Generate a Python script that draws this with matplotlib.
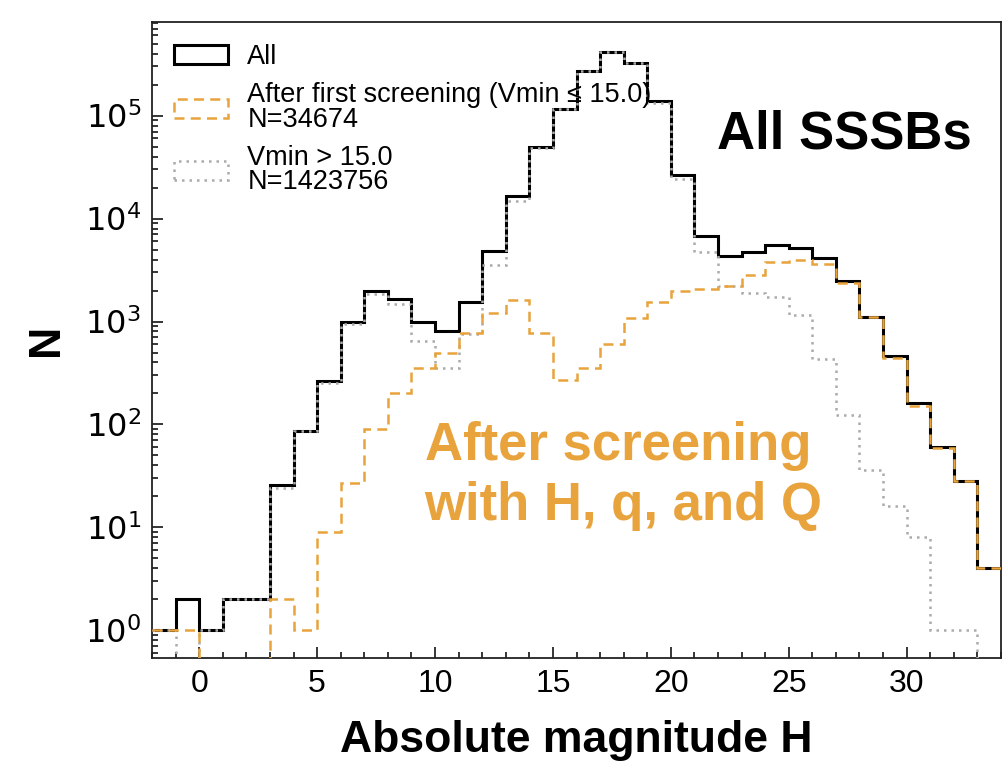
import numpy as np
import matplotlib
matplotlib.use("Agg")
import matplotlib.pyplot as plt
from matplotlib.patches import Patch

# ---- data ----
bin_edges = list(range(-2, 35))  # integer bins from -2 to 34
counts_all = [1, 2, 1, 2, 2, 26, 87, 263, 980, 1960, 1670, 980, 805, 1540,
              4800, 16600, 50000, 117000, 270000, 418000, 323000, 137000,
              26300, 6700, 4360, 4680, 5500, 5200, 4100, 2500, 1110, 460,
              160, 60, 28, 4]
counts_first = [1, 1, 0, 0, 0, 2, 1, 9, 27, 90, 203, 350, 490, 780, 1200,
                1630, 780, 268, 355, 600, 1090, 1560, 1960, 2090, 2200, 2800,
                3800, 4000, 3650, 2350, 1100, 440, 150, 59, 28, 4]
counts_faint = [1, 0, 1, 2, 2, 24, 86, 254, 953, 1870, 1480, 640, 355, 760,
                3560, 14700, 48000, 116700, 269600, 417400, 322000, 132000,
                24000, 4680, 2200, 1900, 1740, 1150, 435, 123, 36, 16, 8, 1,
                1, 0]
x_ticks = [0, 5, 10, 15, 20, 25, 30]
y_ticks = [1, 10, 100, 1e3, 1e4, 1e5]

label_all = "All"
label_first = "After first screening (Vmin \u2264 15.0)\nN=34674"
label_faint = "Vmin > 15.0\nN=1423756"
title_text = "All SSSBs"
note_text = "After screening\nwith H, q, and Q"
xlabel = "Absolute magnitude H"
ylabel = "N"

ORANGE = "#E8A33D"
GREY = "#ABABAB"
DASH = (0, (4, 2.5))
DOT = (0, (1, 2))

plt.rcParams["font.family"] = ["Liberation Sans", "DejaVu Sans"]
plt.rcParams["mathtext.fontset"] = "dejavusans"
plt.rcParams["mathtext.default"] = "regular"

fig = plt.figure(figsize=(10.06, 7.63), dpi=100)
ax = fig.add_axes([152 / 1006, 1 - 658 / 763, 849 / 1006, 636 / 763])

edges = np.array(bin_edges, dtype=float)
with np.errstate(divide="ignore"):
    ax.stairs(counts_all, edges, baseline=None, color="black", lw=2.2,
              zorder=2)
    ax.stairs(counts_first, edges, baseline=None, color=ORANGE, lw=1.8,
              linestyle=DASH, zorder=4)
    ax.stairs(counts_faint, edges, baseline=None, color=GREY, lw=1.8,
              linestyle=DOT, zorder=3)

ax.set_yscale("log", nonpositive="clip")
ax.set_xlim(-2, 34)
ax.set_ylim(0.54, 8.1e5)
ax.set_xticks(x_ticks)
ax.xaxis.set_minor_locator(matplotlib.ticker.MultipleLocator(1))
ax.yaxis.set_major_locator(matplotlib.ticker.FixedLocator(y_ticks))
ax.yaxis.set_minor_locator(matplotlib.ticker.LogLocator(base=10, subs=np.arange(2, 10), numticks=20))
ax.yaxis.set_major_formatter(matplotlib.ticker.FuncFormatter(
    lambda v, p: r"$10^{%d}$" % int(round(np.log10(v)))))

ax.tick_params(which="both", direction="in", top=False, right=False,
               width=1.1, color="black")
ax.tick_params(axis="x", labelsize=23)
ax.tick_params(axis="y", labelsize=23)
ax.tick_params(which="major", length=8, pad=8)
ax.tick_params(which="minor", length=4.5)
for t in ax.get_yticklabels():
    t.set_family("DejaVu Sans")
for s in ax.spines.values():
    s.set_linewidth(1.3)
    s.set_color("#222222")

ax.set_xlabel(xlabel, fontsize=32, fontweight="bold", labelpad=15)
ax.set_ylabel(ylabel, fontsize=32, fontweight="bold", labelpad=13)

handles = [
    Patch(facecolor="none", edgecolor="black", lw=2.2),
    Patch(facecolor="none", edgecolor=ORANGE, lw=1.8, linestyle=DASH),
    Patch(facecolor="none", edgecolor=GREY, lw=1.8, linestyle=DOT),
]
leg = ax.legend(handles, [label_all, label_first, label_faint],
                loc="upper left", frameon=False, fontsize=19.5,
                handlelength=2.0, labelspacing=0.45, borderaxespad=0.42,
                handletextpad=0.7)
for t in leg.get_texts():
    t.set_linespacing(0.92)

ax.text(0.665, 0.8014, title_text, transform=ax.transAxes, fontsize=38,
        fontweight="bold", color="black", ha="left", va="baseline")
ax.text(0.321, 0.2167, note_text, transform=ax.transAxes, fontsize=38,
        fontweight="bold", color=ORANGE, ha="left", va="baseline",
        linespacing=1.25)

fig.savefig("out.png", dpi=100)
